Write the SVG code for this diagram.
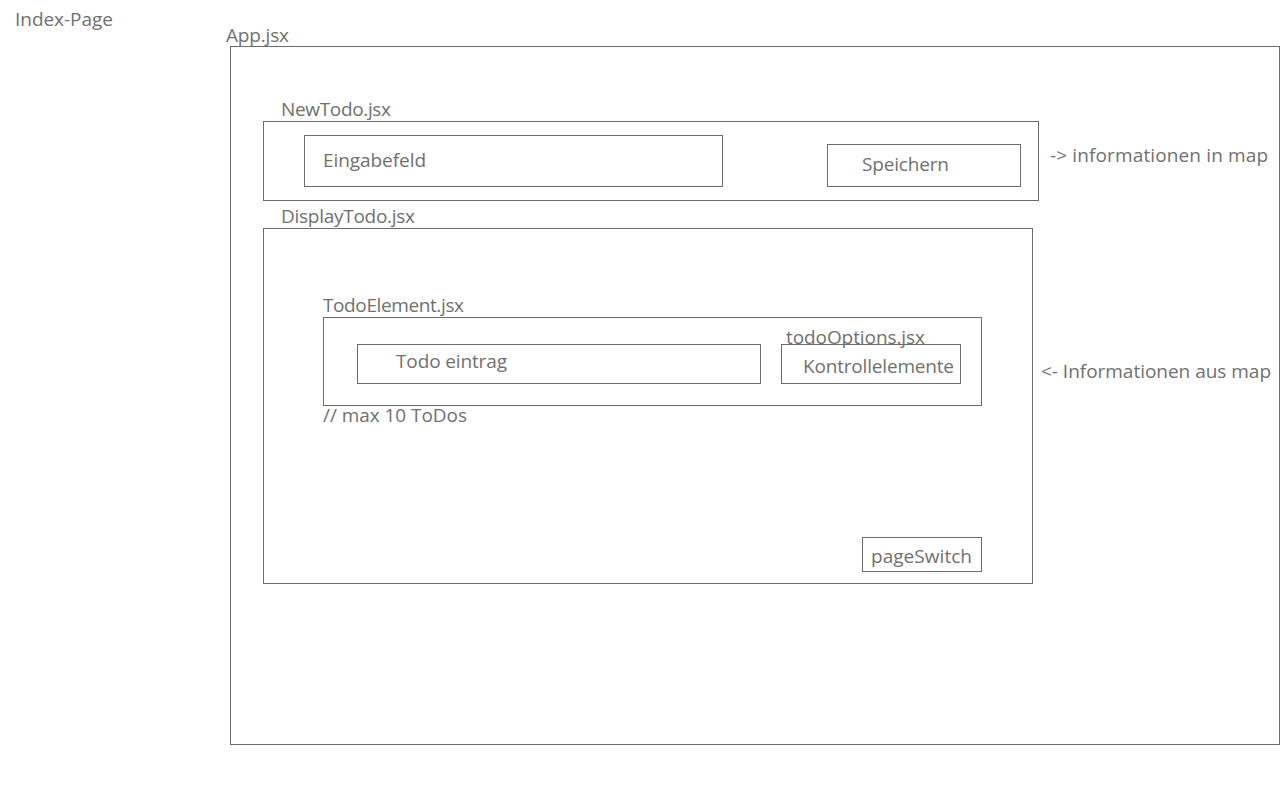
<svg xmlns="http://www.w3.org/2000/svg" width="1280" height="800" viewBox="0 0 1280 800">
<style>
text{font-family:"Open Sans","Noto Sans","Liberation Sans",sans-serif;font-size:19px;fill:#707070}
rect{fill:none;stroke:#6b6b6b;stroke-width:1}
</style>
<rect x="0" y="0" width="1280" height="800" style="fill:#fff;stroke:none"/>
<g id="index-page">
<text x="15" y="26" textLength="98">Index-Page</text>
</g>
<g id="app">
<text x="226" y="42" textLength="63">App.jsx</text>
<rect x="230.5" y="46.5" width="1049" height="698"/>
</g>
<g id="newtodo">
<text x="281" y="116" textLength="110">NewTodo.jsx</text>
<rect x="263.5" y="121.5" width="775" height="79"/>
</g>
<g id="eingabefeld">
<rect x="304.5" y="135.5" width="418" height="51"/>
<text x="323" y="167" textLength="103">Eingabefeld</text>
</g>
<g id="speichern">
<rect x="827.5" y="144.5" width="193" height="42"/>
<text x="862" y="171" textLength="87">Speichern</text>
</g>
<g id="note-in">
<text x="1050" y="162" textLength="218">-&gt; informationen in map</text>
</g>
<g id="displaytodo">
<text x="281" y="223" textLength="134">DisplayTodo.jsx</text>
<rect x="263.5" y="228.5" width="769" height="355"/>
</g>
<g id="todoelement">
<text x="323" y="312" textLength="141">TodoElement.jsx</text>
<rect x="323.5" y="317.5" width="658" height="88"/>
<text x="323" y="422" textLength="144">// max 10 ToDos</text>
</g>
<g id="todo-eintrag">
<rect x="357.5" y="344.5" width="403" height="39"/>
<text x="396" y="368" textLength="111">Todo eintrag</text>
</g>
<g id="todooptions">
<text x="786" y="344" textLength="139">todoOptions.jsx</text>
<rect x="781.5" y="344.5" width="179" height="39"/>
<text x="803" y="373" textLength="151">Kontrollelemente</text>
</g>
<g id="pageswitch">
<rect x="862.5" y="537.5" width="119" height="34"/>
<text x="871" y="563" textLength="101">pageSwitch</text>
</g>
<g id="note-out">
<text x="1041" y="378" textLength="230">&lt;- Informationen aus map</text>
</g>
<g id="connectors"></g>
</svg>
